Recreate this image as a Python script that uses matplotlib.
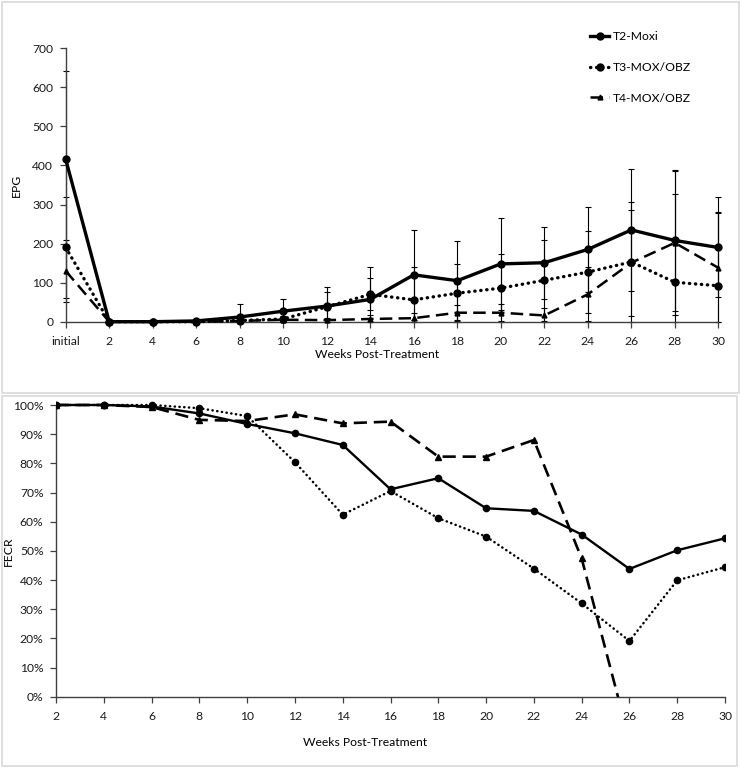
import numpy as np
import matplotlib
matplotlib.use("Agg")
import matplotlib.pyplot as plt
from matplotlib.patches import Rectangle
from matplotlib.ticker import PercentFormatter

plt.rcParams['font.family'] = ['Lato', 'DejaVu Sans']

# ---------------- data ----------------
epg_labels = ['initial', '2', '4', '6', '8', '10', '12', '14', '16', '18', '20', '22', '24', '26', '28', '30']
t2_epg = [416, 0, 0, 2, 12, 27, 40, 57, 120, 105, 148, 151, 185, 235, 208, 190]
t3_epg = [190, 0, 0, 0, 3, 7, 38, 70, 56, 73, 86, 106, 127, 153, 101, 92]
t4_epg = [130, 0, 0, 0, 2, 5, 4, 7, 9, 23, 23, 16, 70, 151, 202, 138]
t2_err = [225, 0, 0, 2, 33, 31, 48, 82, 116, 101, 118, 92, 108, 156, 181, 128]
t3_err = [130, 0, 0, 0, 4, 8, 39, 41, 83, 74, 88, 103, 106, 153, 227, 190]
t4_err = [80, 0, 0, 0, 3, 6, 5, 10, 12, 20, 22, 18, 69, 136, 185, 140]

fecr_weeks = [2, 4, 6, 8, 10, 12, 14, 16, 18, 20, 22, 24, 26, 28, 30]
t2_fecr = [100, 100, 99.5, 97.1, 93.5, 90.3, 86.3, 71.1, 74.9, 64.6, 63.7, 55.6, 43.8, 50.2, 54.3]
t3_fecr = [100, 100, 100, 98.9, 96.2, 80.4, 62.4, 70.5, 61.2, 54.9, 43.9, 32.0, 19.1, 39.9, 44.4]
t4_fecr = [100, 100, 99.3, 94.9, 94.5, 96.8, 93.7, 94.3, 82.3, 82.3, 88.0, 47.4, -15.0, -55.0, -6.0]

series_names = ['T2-Moxi', 'T3-MOX/OBZ', 'T4-MOX/OBZ']

# ---------------- figure ----------------
W, H = 740, 768
fig = plt.figure(figsize=(W / 100, H / 100), dpi=100)

def fx(px):
    return px / W

def fy(py):
    return 1 - py / H

border = '#d9d9d9'
fig.patches.append(Rectangle((fx(2), fy(393)), fx(737), (393 - 2) / H, transform=fig.transFigure,
                             fill=False, edgecolor=border, lw=1.2))
fig.patches.append(Rectangle((fx(2), fy(766)), fx(735), (766 - 396) / H, transform=fig.transFigure,
                             fill=False, edgecolor=border, lw=1.2))

axis_col = '#404040'
fs = 8.7

def style_axes(ax):
    for s in ['top', 'right']:
        ax.spines[s].set_visible(False)
    for s in ['left', 'bottom']:
        ax.spines[s].set_color(axis_col)
        ax.spines[s].set_linewidth(1.0)
    ax.tick_params(axis='both', direction='out', length=4, width=0.9, color=axis_col,
                   labelsize=fs, labelcolor='#1a1a1a', pad=5)

# ---------------- top panel ----------------
ax1 = fig.add_axes([fx(65.7), fy(321.7), fx(718.3 - 65.7), (321.7 - 48.3) / H])
x = np.arange(len(epg_labels))
styles = [
    dict(color='black', lw=2.4, ls='-', marker='o', ms=5),
    dict(color='black', lw=2.4, ls=(0, (0.1, 1.7)), marker='o', ms=5, dash_capstyle='round'),
    dict(color='black', lw=1.8, ls=(0, (5, 2.5)), marker='^', ms=3.5),
]
handles = []
for vals, err, st, name in zip([t2_epg, t3_epg, t4_epg], [t2_err, t3_err, t4_err], styles, series_names):
    v = np.array(vals, float)
    e = np.array(err, float)
    lower = np.minimum(e, v)
    ax1.errorbar(x, v, yerr=[lower, e], fmt='none', ecolor='black', elinewidth=0.8,
                 capsize=2, capthick=0.8, clip_on=False)
    ln, = ax1.plot(x, v, label=name, clip_on=False, zorder=3, **st)
    handles.append(ln)

ax1.set_xlim(0, 15)
ax1.set_ylim(0, 700)
ax1.set_yticks(np.arange(0, 701, 100))
ax1.set_xticks(x)
ax1.set_xticklabels(epg_labels)
style_axes(ax1)
ax1.tick_params(axis='x', pad=6)
ax1.set_ylabel('EPG', fontsize=fs)
ax1.yaxis.set_label_coords(fx(22 - 65.7) / fx(718.3 - 65.7), 0.5)
fig.text(fx(377), fy(354), 'Weeks Post-Treatment', ha='center', va='center', fontsize=fs)

leg = fig.legend(handles=handles, labels=series_names, loc='upper left',
                 bbox_to_anchor=(fx(585), fy(26)), frameon=False, fontsize=fs,
                 handlelength=1.6, handletextpad=0.3, labelspacing=1.65, borderaxespad=0)

# ---------------- bottom panel ----------------
ymax = 1.03
ax2 = fig.add_axes([fx(56), fy(696.7), fx(725 - 56), 291.7 * ymax / H])
styles2 = [
    dict(color='black', lw=1.7, ls='-', marker='o', ms=4.5),
    dict(color='black', lw=1.8, ls=(0, (0.1, 1.8)), marker='o', ms=4.5, dash_capstyle='round'),
    dict(color='black', lw=1.9, ls=(0, (5, 2.6)), marker='^', ms=4),
]
for vals, st in zip([t2_fecr, t3_fecr, t4_fecr], styles2):
    ax2.plot(fecr_weeks, np.array(vals) / 100.0, zorder=3, **st)

ax2.set_xlim(2, 30)
ax2.set_ylim(0, ymax)
ax2.spines['left'].set_bounds(0, 1)
ax2.set_yticks(np.arange(0, 1.01, 0.1))
ax2.yaxis.set_major_formatter(PercentFormatter(1.0, decimals=0))
ax2.set_xticks(np.arange(2, 31, 2))
style_axes(ax2)
ax2.tick_params(axis='x', pad=6)
ax2.set_ylabel('FECR', fontsize=fs)
ax2.yaxis.set_label_coords(fx(14 - 56) / fx(725 - 56), 0.5 / ymax)
fig.text(fx(365), fy(743), 'Weeks Post-Treatment', ha='center', va='center', fontsize=fs)

fig.savefig('out.png', dpi=100)
